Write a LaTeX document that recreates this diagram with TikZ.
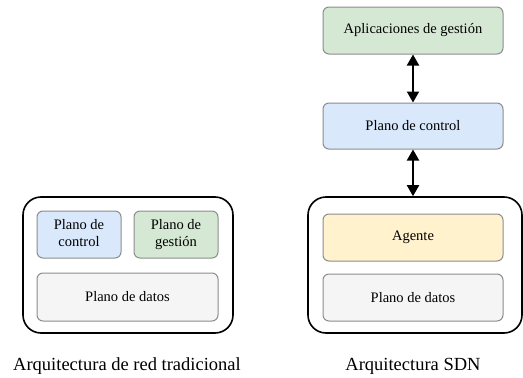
\documentclass[tikz,border=0pt]{standalone}
\usepackage{fontspec}
\setmainfont{Liberation Serif}
\usetikzlibrary{arrows.meta}
\definecolor{cblue}{HTML}{DAE8FC}
\definecolor{cgreen}{HTML}{D5E8D4}
\definecolor{cyellow}{HTML}{FFF2CC}
\definecolor{cgray}{HTML}{F5F5F5}
\definecolor{cborder}{HTML}{8C8C8C}
\begin{document}
\begin{tikzpicture}[x=1pt,y=-1pt,
  outerbox/.style={draw=black, line width=1.6pt, rounded corners=18pt},
  innerbox/.style={draw=cborder, line width=1pt, rounded corners=6pt, align=center, font=\fontsize{14.5}{16.5}\selectfont, inner sep=0pt},
  caption/.style={font=\fontsize{18.5}{22}\selectfont, inner sep=0pt},
  biarrow/.style={line width=2pt, {Triangle[length=11pt,width=12pt]}-{Triangle[length=11pt,width=12pt]}}
]
\useasboundingbox (0,0) rectangle (523,378);
% left
\draw[outerbox] (23,197) rectangle (233,333);
\node[innerbox, fill=cblue, minimum width=84pt, minimum height=47pt] (lc) at (79,234.5) {\smash{Plano de}\strut\\\smash{control}\strut};
\node[innerbox, fill=cgreen, minimum width=84pt, minimum height=47pt] (lg) at (176,234.5) {\smash{Plano de}\strut\\\smash{gestión}\strut};
\node[innerbox, fill=cgray, minimum width=181pt, minimum height=48pt] (ld) at (127.5,297) {Plano de datos};
\node[caption] (lcap) at (127,366) {Arquitectura de red tradicional};
% right
\node[innerbox, fill=cgreen, minimum width=180pt, minimum height=47pt] (app) at (413,30.5) {Aplicaciones de gestión};
\node[innerbox, fill=cblue, minimum width=180pt, minimum height=46pt] (rc) at (413,126) {Plano de control};
\node[outerbox, minimum width=214pt, minimum height=136pt, inner sep=0pt] (sw) at (415,265) {};
\node[innerbox, fill=cyellow, minimum width=180pt, minimum height=47pt] (ag) at (413,237.5) {Agente};
\node[innerbox, fill=cgray, minimum width=180pt, minimum height=47pt] (rd) at (413,297.5) {Plano de datos};
\node[caption] (rcap) at (413,366) {Arquitectura SDN};
\draw[biarrow] (app.south) -- (rc.north);
\draw[biarrow] (rc.south) -- (rc.south |- sw.north);
\end{tikzpicture}
\end{document}
